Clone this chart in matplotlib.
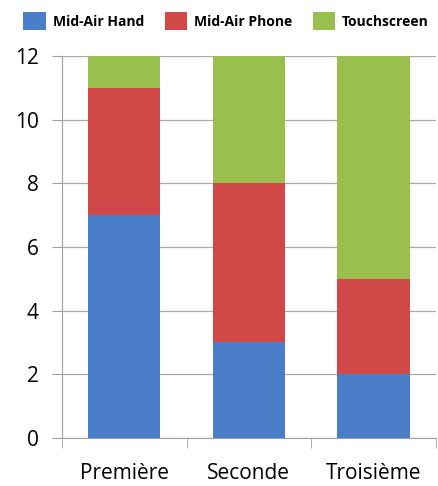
import matplotlib.pyplot as plt
import numpy as np

categories = ['Première', 'Seconde', 'Troisième']
series_names = ['Mid-Air Hand', 'Mid-Air Phone', 'Touchscreen']
hand = [7, 3, 2]
phone = [4, 5, 3]
touch = [1, 4, 7]
colors = ['#4a7ec9', '#d04848', '#99bf4f']

plt.rcParams['font.family'] = ['Open Sans', 'DejaVu Sans']

fig = plt.figure(figsize=(4.39, 4.86), dpi=100)
ax = fig.add_axes([0.141, 0.099, 0.852, 0.786])

x = np.arange(len(categories))
bottom = np.zeros(len(categories))
for vals, name, c in zip([hand, phone, touch], series_names, colors):
    ax.bar(x, vals, width=0.58, bottom=bottom, color=c, label=name, zorder=3)
    bottom += np.array(vals)

ax.set_xlim(-0.5, 2.5)
ax.set_ylim(0, 12)
ax.set_yticks(range(0, 13, 2))
ax.set_xticks(x)
ax.set_xticklabels(categories, fontsize=15)
ax.tick_params(axis='x', length=0, pad=18)
ax.set_xticks([-0.5, 0.5, 1.5, 2.5], minor=True)
ax.tick_params(axis='x', which='minor', length=7.5, color='#a0a0a0')
ax.tick_params(axis='y', labelsize=15, length=7.5, color='#a0a0a0', pad=9)
ax.grid(axis='y', color='#a8a8a8', linewidth=0.9, zorder=0)
for s in ['top', 'right']:
    ax.spines[s].set_visible(False)
for s in ['left', 'bottom']:
    ax.spines[s].set_color('#a0a0a0')

leg = fig.legend(loc='upper center', bbox_to_anchor=(0.515, 1.0), ncol=3, frameon=False,
                 prop={'weight': 'bold', 'size': 10}, handlelength=1.6, handleheight=1.6,
                 columnspacing=1.5, handletextpad=0.5)

fig.savefig('out.png', dpi=100)
